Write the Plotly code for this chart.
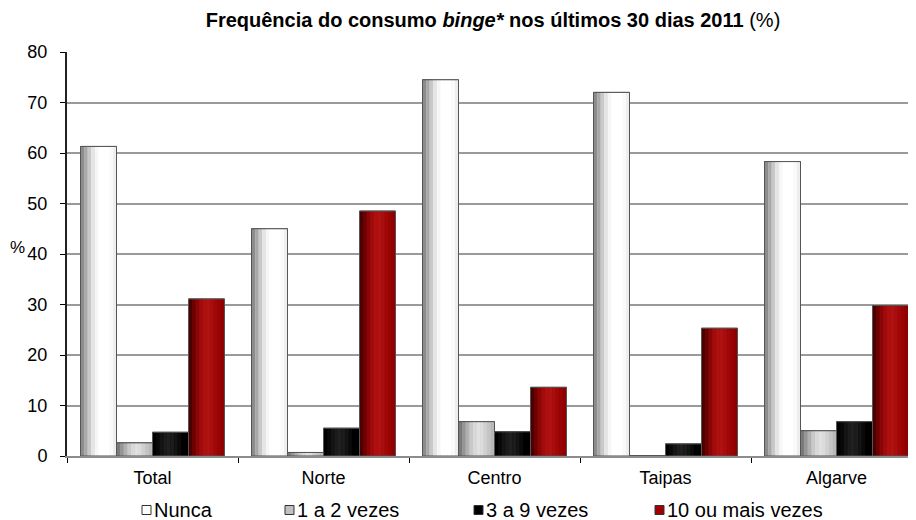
import plotly.graph_objects as go

categories = ["Total", "Norte", "Centro", "Taipas", "Algarve"]
series_names = ["Nunca", "1 a 2 vezes", "3 a 9 vezes", "10 ou mais vezes"]
nunca = [61.3, 45.0, 74.5, 72.0, 58.3]
vezes_1_2 = [2.6, 0.7, 6.8, 0.1, 5.0]
vezes_3_9 = [4.7, 5.5, 4.8, 2.4, 6.8]
vezes_10_mais = [31.1, 48.5, 13.6, 25.3, 29.8]
y_ticks = [0, 10, 20, 30, 40, 50, 60, 70, 80]

values = [nunca, vezes_1_2, vezes_3_9, vezes_10_mais]
base_colors = ["#ffffff", "#c0c0c0", "#000000", "#a00000"]
gradients = [
    ["#8c8c8c", "#a8a8a8", "#c8c8c8", "#e4e4e4", "#f6f6f6", "#ffffff", "#ffffff", "#ffffff", "#fafafa", "#eeeeee"],
    ["#7a7a7a", "#959595", "#b0b0b0", "#c8c8c8", "#d8d8d8", "#e0e0e0", "#dcdcdc", "#d0d0d0", "#c4c4c4", "#b8b8b8"],
    ["#000000", "#080808", "#141414", "#1c1c1c", "#202020", "#1c1c1c", "#141414", "#0a0a0a", "#000000", "#000000"],
    ["#4a0000", "#6a0000", "#8a0606", "#a00c0c", "#ae1010", "#b01212", "#a80e0e", "#a00808", "#980404", "#900000"],
]

# page geometry (the page body adds an 8px offset)
W, H = 908, 512
PL, PR, PT, PB = 67, 916, 52, 456  # plot area in page pixels


def px_x(p):
    return (p - PL) / (PR - PL)


def px_y(p):
    return (PB - p) / (PB - PT)


group_w = 0.842
bw = group_w / 4
fig = go.Figure()
for s, (name, vals) in enumerate(zip(series_names, values)):
    off = -group_w / 2 + s * bw
    fig.add_trace(go.Bar(x=categories, y=vals, name=name, offset=off, width=bw,
                         marker=dict(color=base_colors[s], line=dict(color="#404040", width=1)),
                         showlegend=False))
    n = len(gradients[s])
    for k, c in enumerate(gradients[s]):
        fig.add_trace(go.Bar(x=categories, y=vals, offset=off + k * bw / n, width=bw / n * 1.02,
                             marker=dict(color=c, line=dict(width=0)), showlegend=False,
                             hoverinfo="skip"))
    fig.add_trace(go.Bar(x=categories, y=vals, offset=off, width=bw,
                         marker=dict(color="rgba(0,0,0,0)", line=dict(color="#555555", width=1)),
                         showlegend=False, hoverinfo="skip"))

font = "Liberation Sans, Arial, sans-serif"
fig.update_layout(
    width=W, height=H,
    margin=dict(l=PL - 8, r=0, t=PT - 8, b=H - (PB - 8)),
    barmode="overlay",
    paper_bgcolor="white", plot_bgcolor="white",
    font=dict(family=font, size=18, color="black"),
    title=dict(text="<b>Frequência do consumo <i>binge*</i> nos últimos 30 dias 2011</b> (%)",
               x=(493 - 8) / W, xanchor="center", y=1 - 12 / H, yanchor="middle", yref="container",
               font=dict(family=font, size=20, color="black")),
    showlegend=False,
)
fig.update_xaxes(range=[-0.5, -0.5 + (PR - PL) / 171], showline=True, linecolor="#8c8c8c", linewidth=2,
                 ticks="outside", tickson="boundaries", ticklen=5, tickcolor="black", tickwidth=1,
                 showgrid=False, tickfont=dict(size=18), ticklabelstandoff=4, fixedrange=True)
fig.update_yaxes(range=[0, 80], tickvals=y_ticks, showline=True, linecolor="#222222", linewidth=2,
                 ticks="outside", ticklen=5, tickcolor="black", showgrid=True, gridcolor="#9a9a9a",
                 gridwidth=2, zeroline=False, tickfont=dict(size=18), ticklabelstandoff=9)
fig.add_annotation(text="%", xref="paper", yref="paper", x=px_x(8), y=px_y(247), showarrow=False,
                   xanchor="left", yanchor="middle", font=dict(family=font, size=17))

# legend drawn as squares + labels
legend_sq_x = [142, 285, 474, 655]
legend_fill = ["#ffffff", "#c0c0c0", "#000000", "#a00000"]
leg_y = 510
sq = 9
for name, lx, fc in zip(series_names, legend_sq_x, legend_fill):
    fig.add_shape(type="rect", xref="paper", yref="paper",
                  x0=px_x(lx), x1=px_x(lx + sq), y0=px_y(leg_y + sq / 2), y1=px_y(leg_y - sq / 2),
                  fillcolor=fc, line=dict(color="#333333", width=1))
    fig.add_annotation(text=name, xref="paper", yref="paper", x=px_x(lx + sq + 1), y=px_y(leg_y),
                       xanchor="left", yanchor="middle", showarrow=False,
                       font=dict(family=font, size=20))
fig.write_html("out.html")
